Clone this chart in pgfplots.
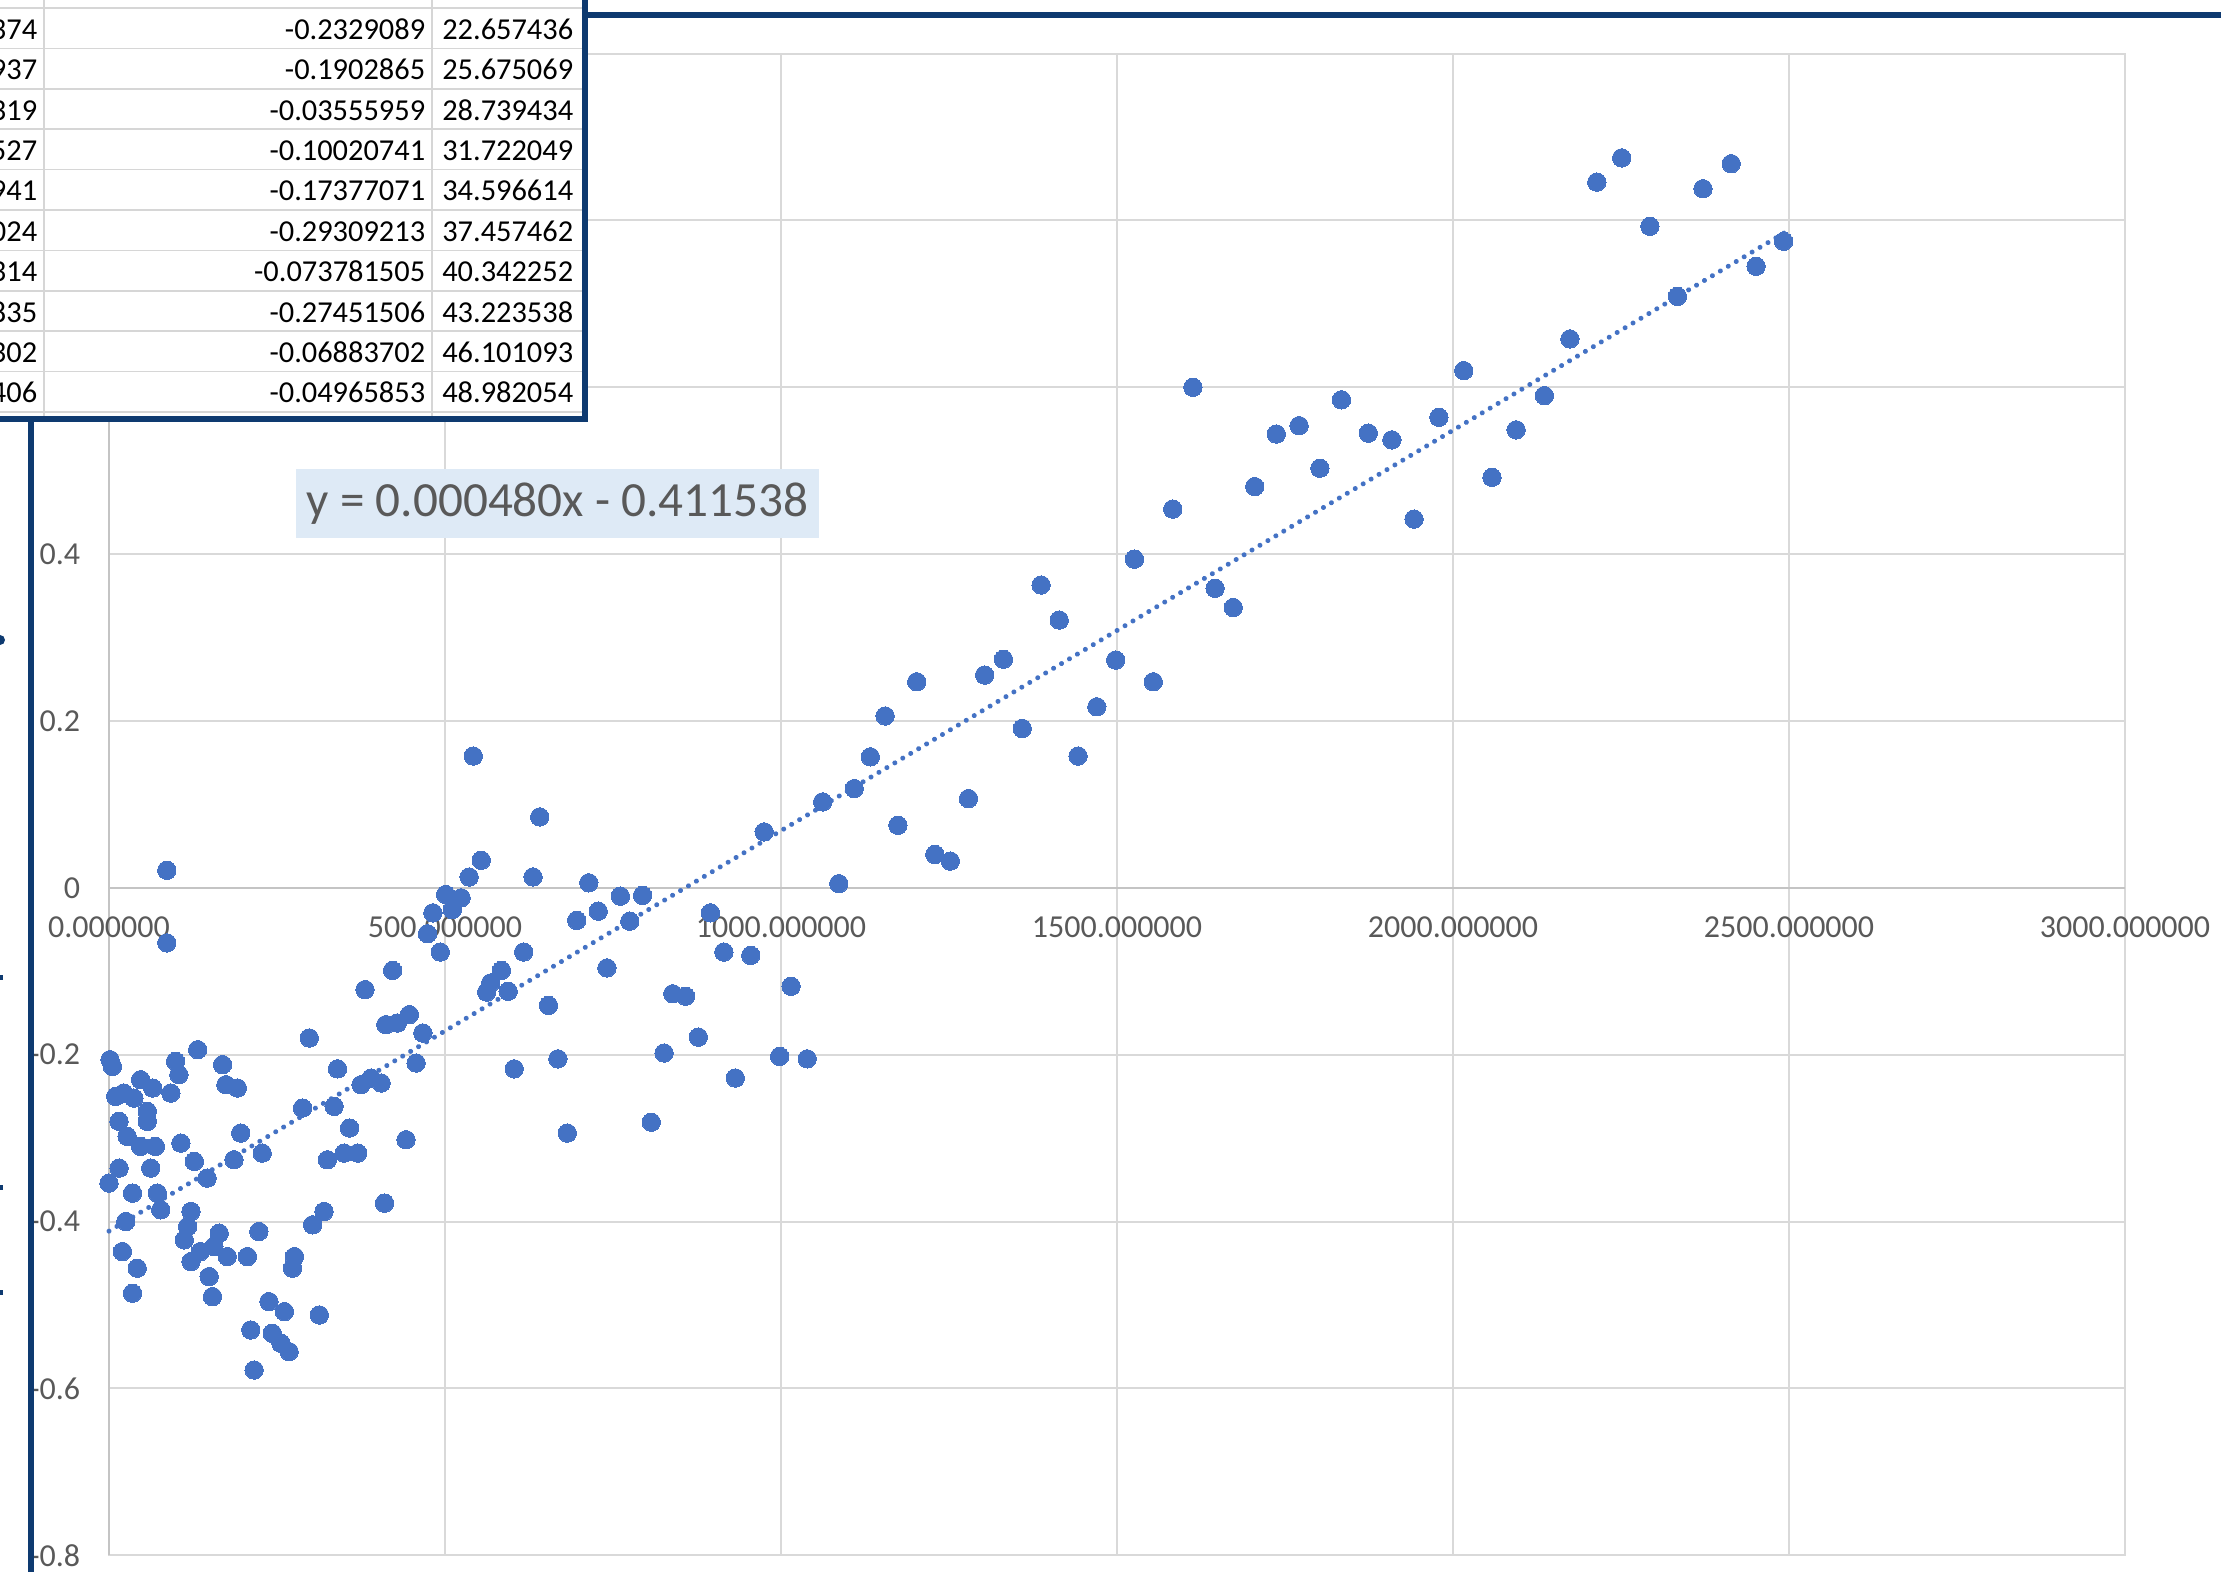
\documentclass[border=0pt]{standalone}
\usepackage{pgfplots}
\pgfplotsset{compat=1.18}
\usepackage{fontspec}
\setmainfont{Carlito}
\definecolor{xlblue}{HTML}{4472C4}
\definecolor{gridc}{HTML}{D9D9D9}
\definecolor{axc}{HTML}{C4C4C4}
\definecolor{lblc}{HTML}{595959}
\definecolor{navy}{HTML}{0E3A70}
\definecolor{eqfill}{HTML}{DEEAF6}
\definecolor{cellgrid}{HTML}{D6D6D6}
\begin{document}
\begin{tikzpicture}
\path[use as bounding box] (0,0) rectangle (555.25pt,-393pt);
\begin{axis}[
  at={(27.25pt,-388.8pt)}, anchor=south west,
  scale only axis, width=504pt, height=375.4pt,
  xmin=0, xmax=3000, ymin=-0.8, ymax=1,
  xtick={0,500,1000,1500,2000,2500,3000},
  ytick={-0.8,-0.6,-0.4,-0.2,0,0.2,0.4,0.6,0.8,1},
  yticklabels={-0.8,-0.6,-0.4,-0.2,0,0.2,0.4,0.6,0.8,1},
  xticklabels={},
  grid=major,
  major grid style={gridc, line width=0.5pt},
  axis line style={gridc, line width=0.5pt},
  tick style={draw=none},
  yticklabel style={anchor=east, inner sep=0pt, xshift=-7pt, font=\fontsize{8}{9}\selectfont, text=lblc},
  clip=false,
]
\draw[axc, line width=0.6pt] (axis cs:0,-0.8) -- (axis cs:0,1);
\draw[axc, line width=0.6pt] (axis cs:0,0) -- (axis cs:3000,0);
\addplot[only marks, mark=*, mark size=2.3pt, color=xlblue, mark options={line width=0pt}] table {
x y
1.5 -0.206
5 -0.214
99 -0.208
104 -0.224
132 -0.194
169 -0.212
174 -0.236
191 -0.24
298 -0.18
340 -0.217
412 -0.164
429 -0.162
447 -0.152
467 -0.174
457 -0.21
10 -0.25
22 -0.246
37 -0.252
47 -0.23
65 -0.24
92 -0.246
57 -0.268
57 -0.28
15 -0.28
27 -0.298
47 -0.31
69 -0.31
107 -0.306
15 -0.336
62 -0.336
127 -0.328
0 -0.354
35 -0.366
72 -0.366
77 -0.386
25 -0.4
20 -0.436
42 -0.456
35 -0.486
146 -0.348
186 -0.326
196 -0.294
228 -0.318
122 -0.388
117 -0.406
112 -0.422
122 -0.448
136 -0.436
164 -0.414
156 -0.43
176 -0.442
206 -0.442
149 -0.466
154 -0.49
223 -0.412
238 -0.496
261 -0.508
211 -0.53
243 -0.534
256 -0.546
268 -0.556
216 -0.578
313 -0.512
276 -0.442
273 -0.456
303 -0.404
320 -0.388
410 -0.378
442 -0.302
325 -0.326
350 -0.318
370 -0.318
358 -0.288
288 -0.264
335 -0.262
375 -0.236
390 -0.228
405 -0.234
86 0.021
86 -0.066
381 -0.122
422 -0.099
493 -0.077
474 -0.055
482 -0.03
501 -0.008
511 -0.026
524 -0.012
536 0.013
554 0.033
542 0.158
562 -0.125
568 -0.114
584 -0.099
594 -0.124
603 -0.217
617 -0.077
631 0.013
641 0.085
654 -0.141
668 -0.205
682 -0.294
696 -0.039
714 0.006
728 -0.028
741 -0.096
761 -0.01
775 -0.04
794 -0.009
807 -0.281
826 -0.198
839 -0.127
858 -0.13
877 -0.179
895 -0.03
915 -0.077
932 -0.228
955 -0.081
975 0.067
998 -0.202
1015 -0.118
1039 -0.205
1062 0.103
1086 0.005
1109 0.119
1133 0.157
1155 0.206
1174 0.075
1202 0.247
1229 0.04
1252 0.032
1279 0.107
1303 0.255
1331 0.274
1359 0.191
1387 0.363
1414 0.321
1442 0.158
1470 0.217
1498 0.273
1526 0.394
1554 0.247
1583 0.454
1613 0.6
1646 0.359
1673 0.336
1705 0.481
1737 0.544
1771 0.554
1802 0.503
1834 0.585
1874 0.545
1909 0.537
1942 0.442
1979 0.564
2016 0.62
2058 0.492
2094 0.549
2136 0.59
2174 0.658
2214 0.846
2251 0.875
2293 0.793
2334 0.709
2372 0.838
2414 0.868
2451 0.745
2492 0.775
};
\addplot[xlblue, line width=1.25pt, line cap=round, dash pattern=on 0.01pt off 2.3pt] coordinates {(0,-0.411538) (2494,0.785582)};
\node[inner sep=0pt, font=\fontsize{8}{9}\selectfont, text=lblc, yshift=-9.9pt] at (axis cs:0,0) {0.000000};
\node[inner sep=0pt, font=\fontsize{8}{9}\selectfont, text=lblc, yshift=-9.9pt] at (axis cs:500,0) {500.000000};
\node[inner sep=0pt, font=\fontsize{8}{9}\selectfont, text=lblc, yshift=-9.9pt] at (axis cs:1000,0) {1000.000000};
\node[inner sep=0pt, font=\fontsize{8}{9}\selectfont, text=lblc, yshift=-9.9pt] at (axis cs:1500,0) {1500.000000};
\node[inner sep=0pt, font=\fontsize{8}{9}\selectfont, text=lblc, yshift=-9.9pt] at (axis cs:2000,0) {2000.000000};
\node[inner sep=0pt, font=\fontsize{8}{9}\selectfont, text=lblc, yshift=-9.9pt] at (axis cs:2500,0) {2500.000000};
\node[inner sep=0pt, font=\fontsize{8}{9}\selectfont, text=lblc, yshift=-9.9pt] at (axis cs:3000,0) {3000.000000};
\end{axis}
% trendline equation label
\node[fill=eqfill, inner sep=0pt, minimum width=130.75pt, minimum height=17.25pt, text=lblc, font=\fontsize{12.3}{14}\selectfont] at (139.4pt,-125.9pt) {y = 0.000480x - 0.411538};
% overlaid spreadsheet cells
\begin{scope}[x=0.25pt, y=-0.25pt]
\fill[white] (-2,-2) rectangle (585,419);
\foreach \yy in {8.1,48.5,88.9,129.3,169.7,210.1,250.5,290.9,331.3,371.7,412.1} {
  \draw[cellgrid, line width=0.4pt] (0,\yy) -- (585,\yy);
}
\draw[cellgrid, line width=0.4pt] (44,0) -- (44,419);
\draw[cellgrid, line width=0.4pt] (432,0) -- (432,419);
\foreach \i/\a/\b/\c in {0/374/-0.2329089/22.657436,1/937/-0.1902865/25.675069,2/319/-0.03555959/28.739434,3/527/-0.10020741/31.722049,4/941/-0.17377071/34.596614,5/024/-0.29309213/37.457462,6/314/-0.073781505/40.342252,7/835/-0.27451506/43.223538,8/302/-0.06883702/46.101093,9/406/-0.04965853/48.982054} {
  \pgfmathsetmacro{\by}{39.3+40.4*\i}
  \node[anchor=base east, inner sep=0pt, font=\fontsize{7.6}{9}\selectfont] at (38,\by) {\a};
  \node[anchor=base east, inner sep=0pt, font=\fontsize{7.6}{9}\selectfont] at (426,\by) {\b};
  \node[anchor=base east, inner sep=0pt, font=\fontsize{7.6}{9}\selectfont] at (574,\by) {\c};
}
% dark blue frame lines
\draw[navy, line width=1.45pt, line join=miter] (585,-4) -- (585,419) -- (-4,419);
\draw[navy, line width=1.6pt] (585,15) -- (2230,15);
\draw[navy, line width=1.45pt] (31,419) -- (31,1580);
\fill[navy] (0,640) circle (5);
\fill[navy] (0,975) rectangle (3,980);
\fill[navy] (0,1185) rectangle (3,1190);
\fill[navy] (0,1290) rectangle (3,1295);
\end{scope}
\end{tikzpicture}
\end{document}
